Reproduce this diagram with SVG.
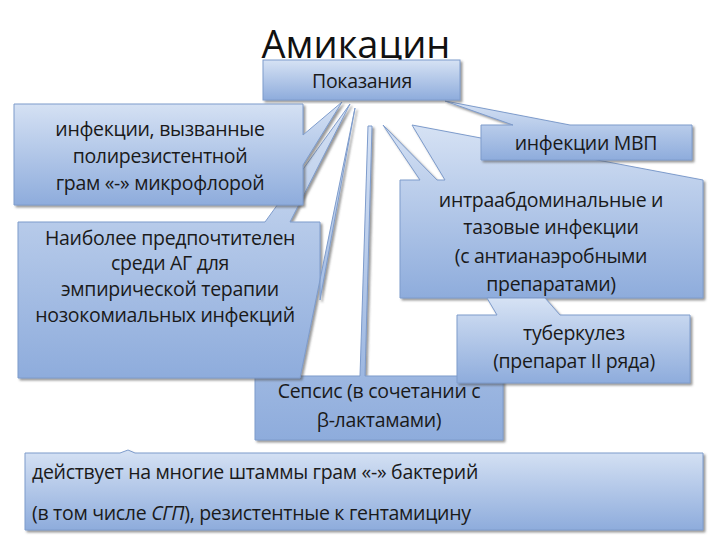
<svg xmlns="http://www.w3.org/2000/svg" width="720" height="540" viewBox="0 0 720 540">
<defs>
<linearGradient id="g" x1="0" y1="0" x2="0" y2="1"><stop offset="0" stop-color="#d6e2f4"/><stop offset="1" stop-color="#8eacdc"/></linearGradient>
<filter id="s" x="-5%" y="-5%" width="112%" height="115%"><feDropShadow dx="2" dy="2" stdDeviation="1.2" flood-color="#555" flood-opacity="0.6"/></filter>
</defs>
<style>
.b{fill:url(#g);stroke:#7e9ccc;stroke-width:1;filter:url(#s)}
.t{font-family:"Open Sans","DejaVu Sans",sans-serif;font-size:19.5px;fill:#1a1a1a;text-anchor:middle;letter-spacing:-0.3px}
.l{font-family:"Open Sans","DejaVu Sans",sans-serif;font-size:19.5px;fill:#1a1a1a;letter-spacing:-0.3px}
</style>
<rect width="720" height="540" fill="#fff"/>
<text x="356" y="58" font-family="Open Sans, DejaVu Sans, sans-serif" font-size="38" text-anchor="middle" fill="#111">Амикацин</text>
<g id="connectors"/>
<g id="n-sepsis"><polygon class="b" points="255,376 360,376 368,126 372,126 365,376 503,376 503,440 255,440"/><text class="t" x="379" y="398">Сепсис (в сочетании с</text><text class="t" x="379" y="427">β-лактамами)</text></g>
<g id="n-empiric"><polygon class="b" points="18,222 265,222 350,104 290,222 320,222 320,300 355,108 300,378 18,378"/><text class="t" x="170" y="245" font-size="19">Наиболее предпочтителен</text><text class="t" x="170" y="270" font-size="19">среди АГ для</text><text class="t" x="170" y="296" font-size="19">эмпирической терапии</text><text class="t" x="165" y="322" font-size="19">нозокомиальных инфекций</text></g>
<g id="n-poly"><polygon class="b" points="14,104 303,104 303,135 342,102 303,165 303,205 14,205"/><text class="t" x="160" y="136">инфекции, вызванные</text><text class="t" x="160" y="163">полирезистентной</text><text class="t" x="160" y="190">грам «-» микрофлорой</text></g>
<g id="n-intra"><polygon class="b" points="400,180 420,180 383,125 437,180 445,180 412,125 703,180 703,298 400,298"/><text class="t" x="551" y="207">интраабдоминальные и</text><text class="t" x="551" y="234">тазовые инфекции</text><text class="t" x="551" y="263">(с антианаэробными</text><text class="t" x="551" y="291">препаратами)</text></g>
<g id="n-tb"><polygon class="b" points="457,315 497,315 487,298 545,298 560,315 690,315 690,383 457,383"/><text class="t" x="574" y="340">туберкулез</text><text class="t" x="574" y="368">(препарат II ряда)</text></g>
<g id="n-mvp"><polygon class="b" points="481,125 513,125 445,101 570,125 692,125 692,160 481,160"/><text class="t" x="586" y="150">инфекции МВП</text></g>
<g id="n-ind"><rect class="b" x="263" y="60" width="197" height="40"/><text class="t" x="362" y="88" font-size="21">Показания</text></g>
<g id="n-bottom"><polygon class="b" points="25,453 120,453 128,450 135,453 703,453 703,530 25,530"/><text class="l" x="32" y="479">действует на многие штаммы грам «-» бактерий</text><text class="l" x="32" y="520">(в том числе <tspan font-style="italic">СГП</tspan>), резистентные к гентамицину</text></g>
</svg>
